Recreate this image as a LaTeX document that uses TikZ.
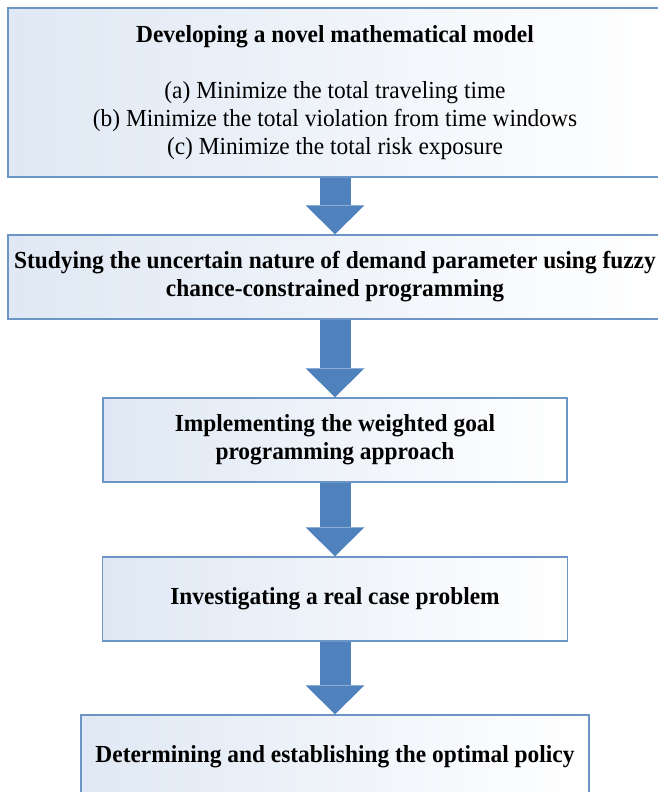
\documentclass[tikz,border=0pt]{standalone}
\usepackage{fontspec}
\setmainfont{Liberation Serif}[FakeStretch=0.955]
\usetikzlibrary{arrows.meta}

\definecolor{boxline}{RGB}{107,149,196}
\definecolor{boxfill}{RGB}{223,232,244}
\definecolor{arrowblue}{RGB}{79,129,189}

\begin{document}
\begin{tikzpicture}[x=1pt,y=1pt,
        stage/.style={draw=boxline,line width=1.5pt,left color=boxfill,right color=white,
                align=center,inner sep=0pt,font=\fontsize{24.5}{28}\selectfont},
        flow/.style={arrowblue,line width=31pt,-{Triangle[width=59pt,length=29pt,line width=0pt]}}]
                \useasboundingbox (0,0) rectangle (658,-792);
                \node[stage,minimum width=654pt,minimum height=169pt] (model) at (335,-92.5)
                        {\textbf{Developing a novel mathematical model}\\[28pt]
                         (a) Minimize the total traveling time\\
                         (b) Minimize the total violation from time windows\\
                         (c) Minimize the total risk exposure};
                \node[stage,minimum width=654pt,minimum height=84pt] (fuzzy) at (335,-277)
                        {\textbf{Studying the uncertain nature of demand parameter using fuzzy}\\
                         \textbf{chance-constrained programming}};
                \node[stage,minimum width=464pt,minimum height=84pt] (goal) at (335,-440)
                        {\textbf{Implementing the weighted goal}\\ \textbf{programming approach}};
                \node[stage,minimum width=465pt,minimum height=84pt] (realcase) at (335,-599)
                        {\textbf{Investigating a real case problem}};
                \node[stage,minimum width=508pt,minimum height=84pt] (policy) at (335,-757)
                        {\textbf{Determining and establishing the optimal policy}};
                \draw[flow] (model) -- (fuzzy);
                \draw[flow] (fuzzy) -- (goal);
                \draw[flow] (goal) -- (realcase);
                \draw[flow] (realcase) -- (policy);
\end{tikzpicture}
\end{document}
